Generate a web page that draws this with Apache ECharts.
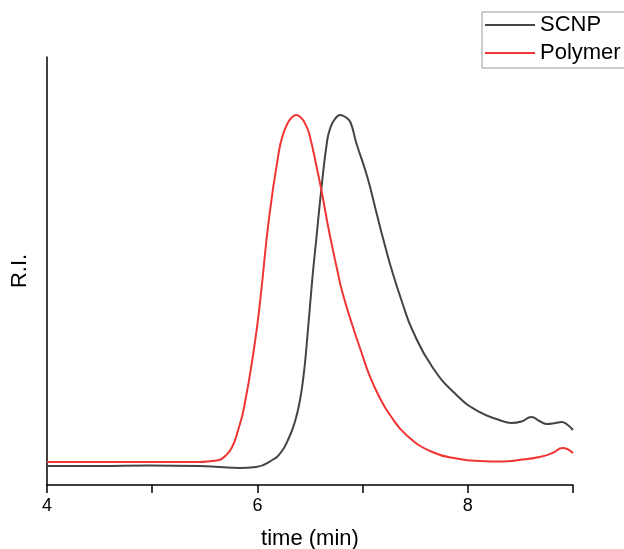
<!DOCTYPE html>
<html>
<head>
<meta charset="utf-8">
<script src="https://cdn.jsdelivr.net/npm/echarts@6/dist/echarts.min.js"></script>
<style>html,body{margin:0;padding:0;background:#fff;overflow:hidden}#c{width:624px;height:549px}</style>
</head>
<body>
<div id="c"></div>
<script>
var scnpTime = [4.000,4.495,4.970,5.446,5.637,5.827,5.989,6.141,6.226,6.303,6.350,6.398,6.436,6.464,6.521,6.559,6.607,6.664,6.693,6.731,6.788,6.835,6.883,6.940,7.045,7.130,7.206,7.283,7.378,7.473,7.663,7.892,8.110,8.301,8.415,8.510,8.605,8.681,8.757,8.834,8.891,8.938,9.000];
var scnpRI   = [4.44,4.44,4.56,4.44,4.21,3.97,4.21,5.84,7.71,11.21,14.25,18.93,25.00,31.54,47.90,57.24,68.93,80.61,83.41,85.28,86.45,85.98,84.81,79.91,71.96,63.79,56.54,49.77,42.52,36.21,27.57,21.03,17.06,15.19,14.49,14.84,15.89,14.95,14.25,14.49,14.72,14.25,12.85];
var polyTime = [4.000,4.970,5.446,5.570,5.637,5.694,5.760,5.817,5.874,5.970,6.027,6.112,6.207,6.245,6.284,6.322,6.369,6.417,6.455,6.493,6.569,6.617,6.664,6.712,6.759,6.807,6.902,6.988,7.064,7.159,7.254,7.416,7.663,7.920,8.110,8.329,8.491,8.681,8.805,8.900,9.000];
var polyRI   = [5.37,5.37,5.37,5.61,5.84,6.78,8.88,12.85,18.22,32.24,43.22,62.62,78.27,82.01,84.35,85.75,86.45,85.75,84.35,82.01,73.60,67.76,61.45,55.61,50.23,45.09,37.38,31.07,25.70,20.56,16.59,11.68,7.71,6.07,5.61,5.49,5.84,6.54,7.48,8.64,7.48];
var xTicks = [4,5,6,7,8,9];
var xLabels = [4,6,8];

function pairs(a,b){return a.map(function(v,i){return [v,b[i]];});}
var font = 'Liberation Sans, Arial, sans-serif';
var chart = echarts.init(document.getElementById('c'), null, {renderer:'canvas', width:624, height:549});
chart.setOption({
  animation:false,
  backgroundColor:'#fff',
  grid:{left:47, top:57, width:526, height:428, outerBoundsMode:'none', containLabel:false},
  legend:{
    left:482, top:12, orient:'vertical',
    borderColor:'#999', borderWidth:1, borderRadius:0,
    padding:[2,4,4,3], itemGap:6, itemWidth:50, itemHeight:2, icon:'rect',
    textStyle:{fontFamily:font, fontSize:22, color:'#000', lineHeight:22},
    data:['SCNP','Polymer']
  },
  xAxis:{
    type:'value', min:xTicks[0], max:xTicks[xTicks.length-1], interval:1,
    name:'time (min)', nameLocation:'middle', nameGap:43,
    nameTextStyle:{fontFamily:font, fontSize:22, color:'#000'},
    axisLine:{lineStyle:{color:'#000', width:1.5}},
    axisTick:{inside:false, length:8, lineStyle:{color:'#000', width:1.5}},
    axisLabel:{margin:12, fontFamily:font, fontSize:18, color:'#000',
      formatter:function(v){return xLabels.indexOf(v)>=0 ? String(v) : '';}},
    splitLine:{show:false}
  },
  yAxis:{
    type:'value', min:0, max:100,
    name:'R.I.', nameLocation:'middle', nameGap:16,
    nameTextStyle:{fontFamily:font, fontSize:22, color:'#000'},
    axisLine:{show:true, lineStyle:{color:'#000', width:1.5}},
    axisTick:{show:false}, axisLabel:{show:false}, splitLine:{show:false}
  },
  series:[
    {name:'SCNP', type:'line', data:pairs(scnpTime,scnpRI), smooth:0.5, symbol:'none',
     lineStyle:{color:'#444444', width:2}, itemStyle:{color:'#444444'}},
    {name:'Polymer', type:'line', data:pairs(polyTime,polyRI), smooth:0.5, symbol:'none',
     lineStyle:{color:'#f03535', width:2}, itemStyle:{color:'#f03535'}}
  ]
});
</script>
</body>
</html>
